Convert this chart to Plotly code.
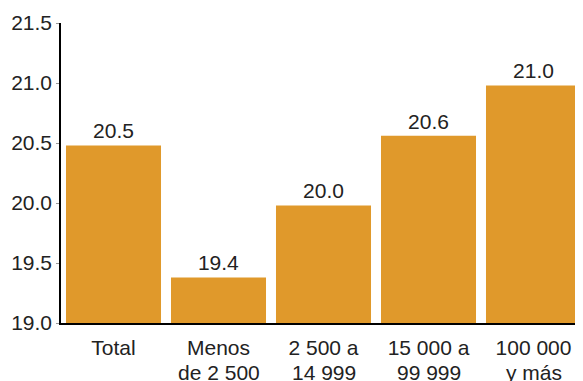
import plotly.graph_objects as go

categories = ["Total", "Menos de 2 500", "2 500 a 14 999", "15 000 a 99 999", "100 000 y más"]
label_line1 = ["Total", "Menos", "2 500 a", "15 000 a", "100 000"]
label_line2 = ["", "de 2 500", "14 999", "99 999", "y más"]
values = [20.48, 19.38, 19.98, 20.56, 20.98]
tick_vals = [19.0, 19.5, 20.0, 20.5, 21.0, 21.5]
tick_text = ["19.0", "19.5", "20.0", "20.5", "21.0", "21.5"]

BAR = "#E0992B"
TXT = "#222222"
FONT = "Liberation Sans, Arial, sans-serif"
FS = 21

fig = go.Figure(go.Bar(
    x=categories, y=values,
    marker=dict(color=BAR, line=dict(width=0)),
    texttemplate="%{y:.1f}", textposition="outside",
    textfont=dict(size=FS, color=TXT, family=FONT),
    cliponaxis=False,
))

for cat, l2 in zip(categories, label_line2):
    if l2:
        fig.add_annotation(x=cat, y=0, xref="x", yref="paper", text=l2,
                           showarrow=False, yanchor="top", yshift=-36,
                           font=dict(size=FS, color=TXT, family=FONT))

# page body has an 8px default margin, so the figure is sized/offset to compensate
fig.update_layout(
    width=578, height=373,
    margin=dict(l=53, r=0, t=15, b=58, autoexpand=False),
    paper_bgcolor="white", plot_bgcolor="white",
    bargap=0.095, showlegend=False,
    font=dict(family=FONT, size=FS, color=TXT),
    xaxis=dict(showline=True, linecolor="black", linewidth=1.5, ticks="",
               tickvals=categories, ticktext=label_line1,
               ticklabelstandoff=5,
               showgrid=False, automargin=False, tickfont=dict(size=FS, color=TXT)),
    yaxis=dict(range=[19, 21.5], tickvals=tick_vals, ticktext=tick_text,
               showline=True, linecolor="black", linewidth=1.5,
               ticks="outside", ticklen=3, tickcolor="#999999",
               showgrid=False, zeroline=False, automargin=False,
               tickfont=dict(size=FS, color=TXT)),
)

fig.write_html("out.html")
